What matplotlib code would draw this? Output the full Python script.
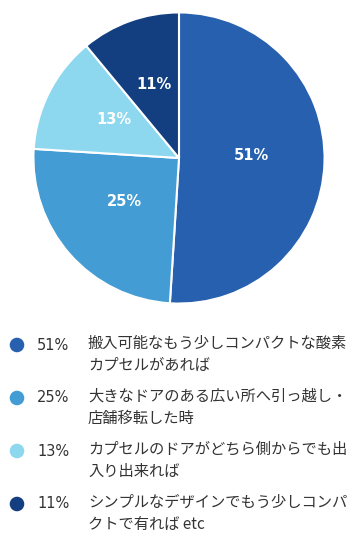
import numpy as np
import matplotlib.pyplot as plt

plt.rcParams['font.family'] = ['Noto Sans CJK JP', 'DejaVu Sans']

# -----------------------------
# DATA
# -----------------------------
shares = [51, 25, 13, 11]
pct_labels = ["51%", "25%", "13%", "11%"]
answers = [
    "搬入可能なもう少しコンパクトな酸素\nカプセルがあれば",
    "大きなドアのある広い所へ引っ越し・\n店舗移転した時",
    "カプセルのドアがどちら側からでも出\n入り出来れば",
    "シンプルなデザインでもう少しコンパ\nクトで有れば etc",
]
colors = ["#2660ae", "#439cd3", "#8dd7ef", "#133f80"]

W, H = 348, 546
fig = plt.figure(figsize=(W / 100, H / 100), dpi=100)

# -----------------------------
# PIE
# -----------------------------
cx, cy, r = 179, 158, 147
ax = fig.add_axes([(cx - r) / W, 1 - (cy + r) / H, 2 * r / W, 2 * r / H])
ax.pie(shares, colors=colors, startangle=90, counterclock=False,
       wedgeprops=dict(edgecolor="white", linewidth=1.5))
ax.set_xlim(-1.01, 1.01)
ax.set_ylim(-1.01, 1.01)
ax.set_aspect("equal")
ax.axis("off")

# percent labels inside wedges
angle = 90.0
for val, lab in zip(shares, pct_labels):
    span = 360.0 * val / sum(shares)
    mid = np.deg2rad(angle - span / 2)
    ax.text(0.5 * np.cos(mid), 0.5 * np.sin(mid) + 0.035, lab,
            ha="center", va="center", color="white", fontsize=10.5,
            fontweight="bold", family=["DejaVu Sans"])
    angle -= span

# -----------------------------
# LEGEND
# -----------------------------
lg = fig.add_axes([0, 0, 1, 1])
lg.set_xlim(0, W)
lg.set_ylim(H, 0)
lg.axis("off")

row_y = [345, 398, 451, 504]
for y, c, p, a in zip(row_y, colors, pct_labels, answers):
    lg.scatter([17], [y], s=110, color=c, edgecolors="none")
    lg.text(37, y, p, ha="left", va="center", fontsize=10.5, color="#333333",
            family=["DejaVu Sans"])
    lg.text(88, y - 10.5, a, ha="left", va="top", fontsize=11, color="#333333",
            linespacing=1.45)

fig.savefig("out.png", dpi=100, facecolor="white")
